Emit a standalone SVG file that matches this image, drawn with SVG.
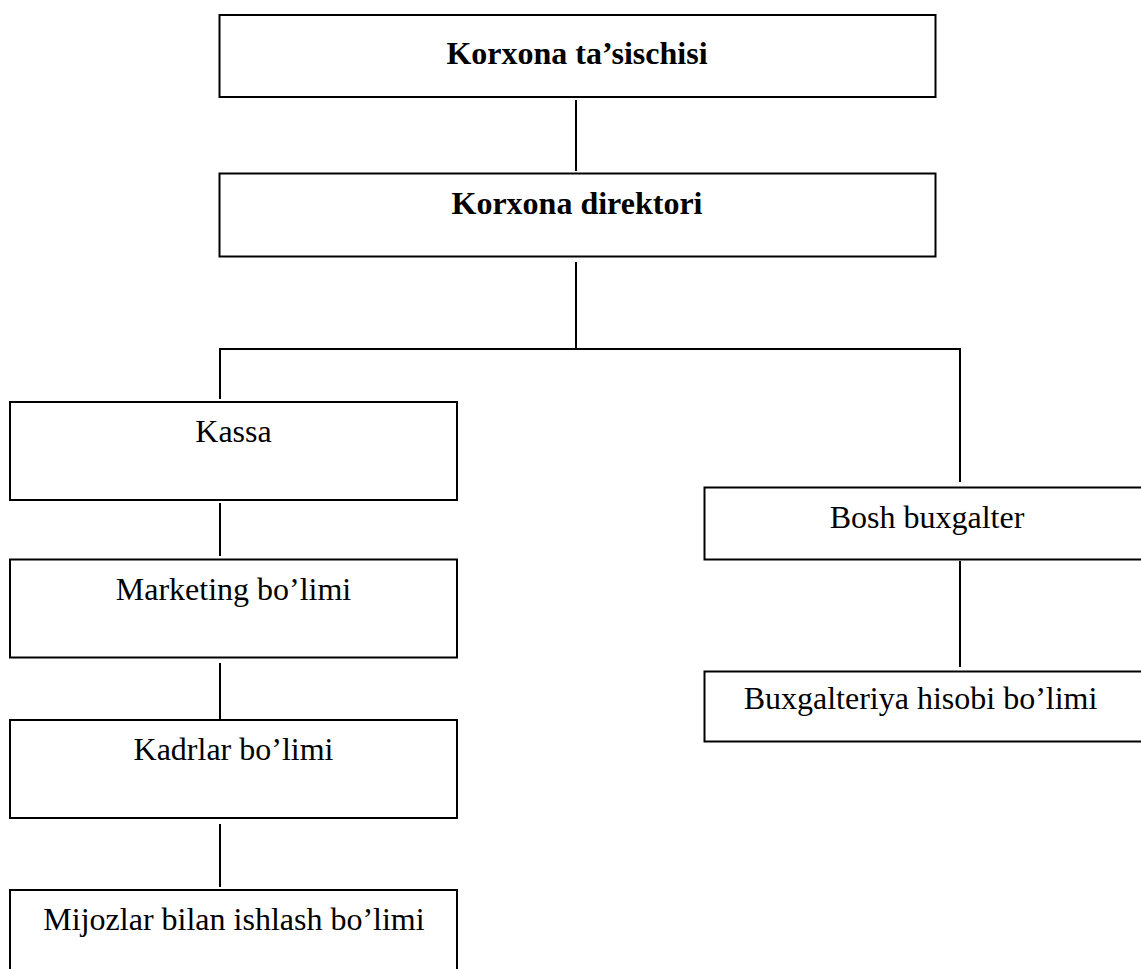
<svg xmlns="http://www.w3.org/2000/svg" width="1141" height="969" viewBox="0 0 1141 969">
  <style>
    .box { fill: #ffffff; stroke: #000000; stroke-width: 2; }
    .conn line { stroke: #000000; stroke-width: 2; }
    .lbl { font-family: "Liberation Serif", "Times New Roman", serif; font-size: 32px; fill: #000000; text-anchor: middle; }
    .b { font-weight: bold; }
  </style>
  <rect width="1141" height="969" fill="#ffffff"/>
  <g id="connectors" class="conn">
    <line x1="576" y1="100" x2="576" y2="171"/>
    <line x1="576" y1="262" x2="576" y2="349"/>
    <line x1="219" y1="349" x2="961" y2="349"/>
    <line x1="220" y1="348" x2="220" y2="399"/>
    <line x1="960" y1="348" x2="960" y2="482"/>
    <line x1="220" y1="503" x2="220" y2="556"/>
    <line x1="220" y1="663" x2="220" y2="719"/>
    <line x1="220" y1="824" x2="220" y2="887"/>
    <line x1="960" y1="561" x2="960" y2="667"/>
  </g>
  <g id="node-tasischi">
    <rect class="box" x="219.5" y="15" width="716" height="82"/>
    <text class="lbl b" x="577" y="63.5">Korxona ta’sischisi</text>
  </g>
  <g id="node-direktor">
    <rect class="box" x="219.5" y="173.5" width="716" height="83"/>
    <text class="lbl b" x="577" y="213.5">Korxona direktori</text>
  </g>
  <g id="node-kassa">
    <rect class="box" x="10" y="402" width="447" height="98"/>
    <text class="lbl" x="233.5" y="441.5">Kassa</text>
  </g>
  <g id="node-marketing">
    <rect class="box" x="10" y="559.5" width="447" height="98"/>
    <text class="lbl" x="233.5" y="600">Marketing bo’limi</text>
  </g>
  <g id="node-kadrlar">
    <rect class="box" x="10" y="720" width="447" height="98"/>
    <text class="lbl" x="233.5" y="760">Kadrlar bo’limi</text>
  </g>
  <g id="node-mijozlar">
    <rect class="box" x="10" y="890" width="447" height="100"/>
    <text class="lbl" x="234" y="930">Mijozlar bilan ishlash bo’limi</text>
  </g>
  <g id="node-bosh-buxgalter">
    <rect class="box" x="704.5" y="487.5" width="500" height="72"/>
    <text class="lbl" x="927" y="527.5">Bosh buxgalter</text>
  </g>
  <g id="node-buxgalteriya">
    <rect class="box" x="704.5" y="671.5" width="500" height="70"/>
    <text class="lbl" x="920.5" y="708.5">Buxgalteriya hisobi bo’limi</text>
  </g>
</svg>
